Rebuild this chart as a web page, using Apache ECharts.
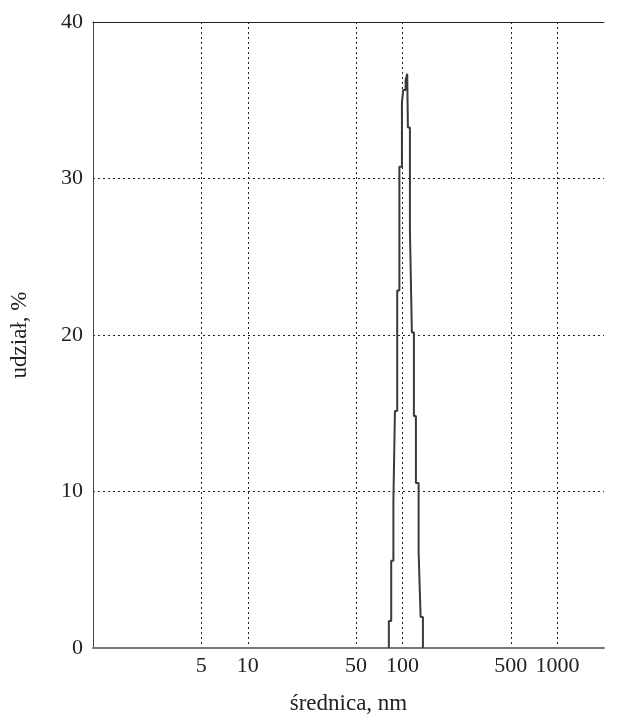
<!DOCTYPE html>
<html>
<head>
<meta charset="utf-8">
<script src="https://cdn.jsdelivr.net/npm/echarts@6/dist/echarts.min.js"></script>
<style>html,body{margin:0;padding:0;background:#fff}#c{width:620px;height:720px}</style>
</head>
<body>
<div id="c"></div>
<script>
// Diameter (nm) at each step edge, and the level (%) of the step ending there
const diameters = [81.5, 84.4, 87.2, 89.2, 92.3, 95.3, 99.0, 100.9, 104.6, 107.1, 108.2, 111.5, 114.8, 118.3, 121.9, 126.9, 130.7, 135.3, 135.3];
const shares    = [0, 1.73, 5.58, 9.38, 15.15, 22.84, 30.75, 34.87, 35.65, 36.28, 36.7, 33.26, 26.71, 20.16, 14.83, 10.54, 6.15, 1.98, 0];
const xTicks = [5, 10, 50, 100, 500, 1000];
const yTicks = [0, 10, 20, 30, 40];
const xName = 'średnica, nm';
const yName = 'udział, %';

const font = 'Liberation Serif';
const chart = echarts.init(document.getElementById('c'), null, {renderer: 'canvas'});
chart.setOption({
  animation: false,
  backgroundColor: '#fff',
  grid: {left: 93, right: 16, top: 22, bottom: 67},
  xAxis: [{
    type: 'log', logBase: 10, min: 1, max: 2000,
    name: xName, nameLocation: 'middle', nameGap: 44,
    nameTextStyle: {fontFamily: font, fontSize: 23, color: '#222'},
    axisLine: {show: true, lineStyle: {color: '#777', width: 2}},
    axisTick: {show: false, customValues: xTicks},
    axisLabel: {customValues: xTicks, fontFamily: font, fontSize: 22, color: '#222', margin: 7,
      formatter: v => String(v)},
    splitLine: {show: true, lineStyle: {color: '#222', type: [2, 3], width: 1}},
    minorTick: {show: false}, minorSplitLine: {show: false}
  }, {
    type: 'value', position: 'top', min: 0, max: 1,
    axisLine: {show: true, onZero: false, lineStyle: {color: '#222', width: 1}},
    axisTick: {show: false}, axisLabel: {show: false}, splitLine: {show: false}
  }],
  yAxis: {
    type: 'value', min: 0, max: 40, interval: 10,
    name: yName, nameLocation: 'middle', nameGap: 62,
    nameTextStyle: {fontFamily: font, fontSize: 23, color: '#222'},
    axisLine: {show: true, lineStyle: {color: '#444', width: 1}},
    axisTick: {show: false},
    axisLabel: {fontFamily: font, fontSize: 22, color: '#222', margin: 10,
      formatter: v => yTicks.includes(v) ? String(v) : ''},
    splitLine: {show: true, lineStyle: {color: '#222', type: [2, 3], width: 1}}
  },
  series: [{
    type: 'line', xAxisIndex: 0, step: 'start', symbol: 'none',
    data: diameters.map((d, i) => [d, shares[i]]),
    lineStyle: {color: '#3a3a3a', width: 2},
    z: 5
  }]
});
</script>
</body>
</html>
